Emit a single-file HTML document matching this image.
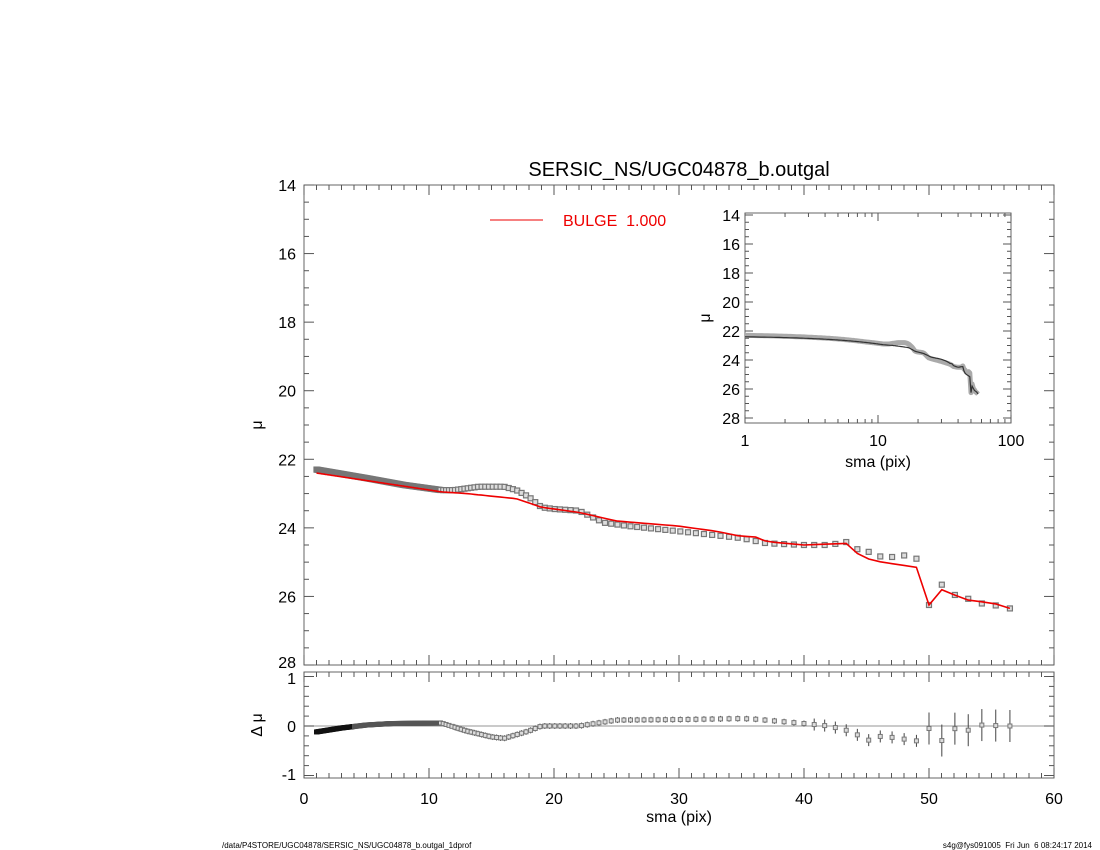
<!DOCTYPE html>
<html><head><meta charset="utf-8"><style>
html,body{margin:0;padding:0;background:#fff;}
svg{display:block;font-family:"Liberation Sans",sans-serif;}
</style></head><body>
<svg id="s" width="1100" height="850" viewBox="0 0 1100 850" xmlns="http://www.w3.org/2000/svg"></svg>
<script>
const S=document.getElementById('s');let h='';
const X=v=>304+v*12.5, Y=m=>185+(m-14)*34.2857, R=d=>726-d*49.5;
const IX=v=>745+Math.log10(v)*133, IY=m=>215+(m-14)*14.5;
function interp(t,x){for(let i=0;i<t.length-1;i++){if(x<=t[i+1][0]+1e-6){const a=t[i],b=t[i+1];return a[1]+(b[1]-a[1])*(x-a[0])/(b[0]-a[0]);}}return t[t.length-1][1];}
const D=[[1,22.3],[5,22.55],[8,22.75],[11,22.9],[12,22.9],[13,22.85],[14,22.8],[16,22.8],[17,22.9],[18,23.1],[19,23.4],[20,23.45],[22,23.5],[24,23.85],[26,23.95],[30,24.1],[35,24.3],[37,24.45],[40,24.5],[42,24.5],[43.6,24.4],[44.5,24.7],[45.3,24.7],[46.2,24.85],[47.1,24.85],[48.1,24.8],[49,24.9],[50,26.25],[51,25.65],[52,25.95],[53,26.05],[54.1,26.2],[55.2,26.25],[56.3,26.35]];
const M=[[1,22.4],[11,22.95],[13,23.0],[17,23.15],[19,23.4],[22,23.55],[25,23.8],[30,23.95],[33,24.1],[35,24.25],[36,24.25],[37,24.4],[40,24.5],[43.6,24.45],[44.5,24.85],[46.2,25.0],[48.1,25.1],[49,25.15],[50,26.25],[51,25.8],[52,25.95],[53,26.1],[55.2,26.2],[56.3,26.35]];
const RS=[[1,-0.12],[3,-0.04],[5,0.02],[7,0.05],[11,0.06],[13,-0.1],[15,-0.22],[16,-0.25],[18,-0.1],[19,0],[22,0],[25,0.12],[30,0.13],[35,0.15],[36,0.14],[40,0.05],[42,0],[43.6,-0.1],[45.3,-0.3],[46.2,-0.2],[49,-0.3],[50,-0.05],[51,-0.3],[52,-0.05],[53,-0.1],[54.1,0.02],[56.3,0.0]];
let pts=[];let x=1;while(x<11){pts.push(x);x+=0.08;}
let up=[];for(let v=50;v<57;v*=1.0205)up.push(v);
let dn=[];for(let v=50/1.0205;v>=11;v/=1.0205)dn.push(v);
pts=pts.concat(dn.reverse(),up);
function ln(x1,y1,x2,y2,c='#555',w=1){h+=`<line x1="${x1}" y1="${y1}" x2="${x2}" y2="${y2}" stroke="${c}" stroke-width="${w}"/>`;}
function tx(x,y,t,sz,anc='middle',c='#000',extra=''){h+=`<text x="${x}" y="${y}" font-size="${sz}" text-anchor="${anc}" fill="${c}" ${extra}>${t}</text>`;}
h+=`<rect x="304" y="185" width="750" height="480" fill="none" stroke="#666" stroke-width="1"/>`;
for(let v=0;v<=60;v++){const L=v%10==0?10:5;ln(X(v),665,X(v),665-L);ln(X(v),185,X(v),185+L);}
for(let m=14;m<=28;m+=0.5){const L=(m%2==0)?10:5;ln(304,Y(m),304+L,Y(m));ln(1054,Y(m),1054-L,Y(m));if(m%2==0)tx(296,Y(m)+(m==28?3:6),m,16,'end');}
tx(262,425,'μ',16,'middle','#000','transform="rotate(-90 262 425)"');
tx(679,176,'SERSIC_NS/UGC04878_b.outgal',20);
ln(490,220,543,220,'#e00',1);tx(563,226,'BULGE  1.000',16,'start','#e00','xml:space="preserve"');
h+=`<rect x="304" y="672" width="750" height="106" fill="none" stroke="#666"/>`;
ln(304,726,1054,726,'#aaa',1.2);
for(let v=0;v<=60;v++){const L=v%10==0?10:5;ln(X(v),778,X(v),778-L);ln(X(v),672,X(v),672+L);if(v%10==0)tx(X(v),804,v,16);}
for(let d=-1;d<=1.001;d+=0.2){const dd=Math.round(d*10)/10;const L=(Math.abs(dd)%1<0.01)?10:5;ln(304,R(dd),304+L,R(dd));ln(1054,R(dd),1054-L,R(dd));}
tx(296,684,'1',16,'end');tx(296,732,'0',16,'end');tx(296,780,'-1',16,'end');
tx(262,725,'Δ μ',16,'middle','#000','transform="rotate(-90 262 725)"');
tx(679,822,'sma (pix)',16);
for(const p of pts){const xx=X(p),yy=Y(interp(D,p));h+=`<rect x="${xx-2.5}" y="${yy-2.5}" width="5" height="5" fill="#ddd" stroke="#777" stroke-width="1.2"/>`;}
h+=`<polyline fill="none" stroke="#e00" stroke-width="1.6" points="${pts.map(p=>X(p).toFixed(1)+','+Y(interp(M,p)).toFixed(1)).join(' ')}"/>`;
for(const p of pts){const xx=X(p),yy=R(interp(RS,p));const e=p<40?(p>12?3:0):(p<50?6:16);if(e)ln(xx,yy-e,xx,yy+e,'#444',1);const c=p<4?'#111':(p<11?'#555':'#777');h+=`<rect x="${xx-2}" y="${yy-2}" width="4" height="4" fill="#ddd" stroke="${c}" stroke-width="1"/>`;}
h+=`<rect x="745" y="213" width="266" height="210" fill="#fff" stroke="#666"/>`;
for(const d of [1,10,100])ln(IX(d),423,IX(d),415),ln(IX(d),213,IX(d),221);
for(const d of [2,3,4,5,6,7,8,9,20,30,40,50,60,70,80,90])ln(IX(d),423,IX(d),419),ln(IX(d),213,IX(d),217);
for(let m=14;m<=28;m+=0.5){const L=(m%2==0)?8:4;ln(745,IY(m),745+L,IY(m));ln(1011,IY(m),1011-L,IY(m));if(m%2==0)tx(740,IY(m)+6,m,16,'end');}
tx(745,446,'1',16);tx(878,446,'10',16);tx(1011,446,'100',16);tx(878,467,'sma (pix)',16);
tx(710,318,'μ',16,'middle','#000','transform="rotate(-90 710 318)"');
const ip=pts.map(p=>IX(p).toFixed(1)+','+IY(interp(D,p)).toFixed(1)).join(' ');
h+=`<polyline fill="none" stroke="#aaa" stroke-width="5" stroke-linejoin="round" points="${ip}"/>`;
h+=`<polyline fill="none" stroke="#333" stroke-width="1.2" points="${pts.map(p=>IX(p).toFixed(1)+','+IY(interp(M,p)).toFixed(1)).join(' ')}"/>`;
tx(222,848,'/data/P4STORE/UGC04878/SERSIC_NS/UGC04878_b.outgal_1dprof',8,'start');
tx(1092,848,'s4g@fys091005  Fri Jun  6 08:24:17 2014',8,'end','#000','xml:space="preserve"');
S.innerHTML=h;
</script>
</body></html>
